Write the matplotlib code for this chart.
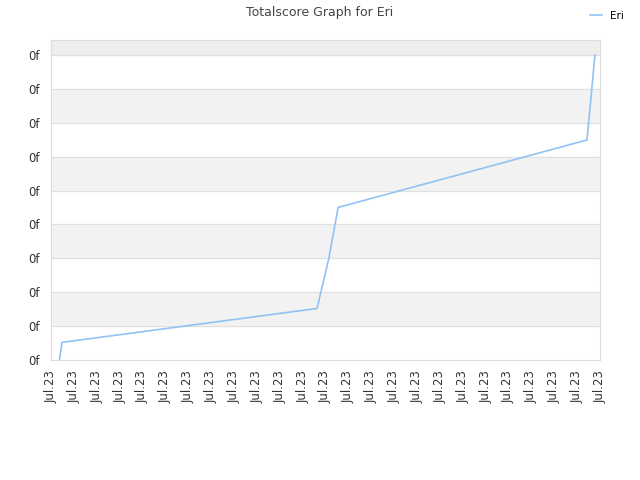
import matplotlib.pyplot as plt

# readings, x in tick units, y in tick units
x_vals = [0.37, 0.48, 11.63, 12.15, 12.55, 23.43, 23.78]
y_vals = [0.0, 0.52, 1.52, 3.01, 4.5, 6.49, 9.0]
x_labels = ["Jul.23"] * 25
y_labels = ["0f"] * 10

fig = plt.figure(figsize=(6.4, 4.8), dpi=100)
ax = fig.add_axes([0.0797, 0.25, 0.8578, 0.6667])

# alternating bands
for i in range(1, 9, 2):
    ax.axhspan(i, i + 1, color="#f2f2f2", zorder=0)
ax.axhspan(9, 9.44, color="#eeeeee", zorder=0)
for i in range(10):
    ax.axhline(i, color="#e0e0e0", lw=0.8, zorder=1)

ax.plot(x_vals, y_vals, color="#90c3f3", lw=1.2, label="Eri", zorder=3)

ax.set_xlim(0, 24)
ax.set_ylim(0, 9.44)
ax.set_xticks(range(len(x_labels)))
ax.set_xticklabels(x_labels, rotation=90, fontsize=8.5, color="#333333")
ax.set_yticks(range(len(y_labels)))
ax.set_yticklabels(y_labels, fontsize=8.5, color="#333333")
ax.tick_params(axis="x", length=0, pad=7)
ax.tick_params(axis="y", length=0, pad=8)
for s in ax.spines.values():
    s.set_color("#dddddd")

fig.suptitle("Totalscore Graph for Eri", x=0.5, y=0.988, fontsize=9, color="#444444")
fig.legend(loc="upper right", bbox_to_anchor=(0.99, 0.997), frameon=False,
           fontsize=7.5, handlelength=1.2)

fig.savefig("out.png")
